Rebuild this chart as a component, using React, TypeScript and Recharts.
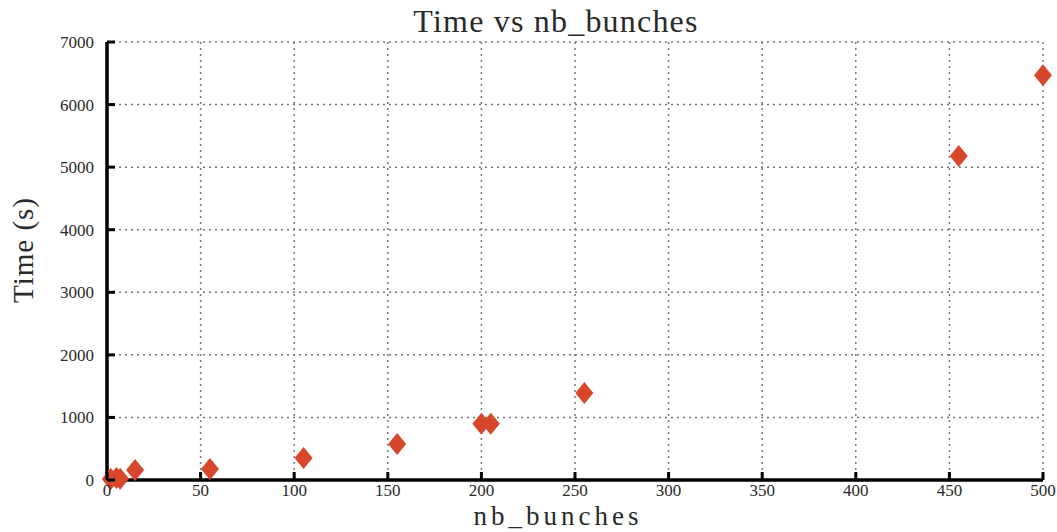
import React from "react";
import { ScatterChart, Scatter, XAxis, YAxis, CartesianGrid } from "recharts";

const bunches = [2, 5, 7, 15, 55, 105, 155, 200, 205, 255, 455, 500];
const times = [15, 30, 20, 160, 175, 350, 575, 900, 900, 1390, 5180, 6470];
const xTicks = [0, 50, 100, 150, 200, 250, 300, 350, 400, 450, 500];
const yTicks = [0, 1000, 2000, 3000, 4000, 5000, 6000, 7000];

const points = bunches.map((b, i) => ({ nb: b, time: times[i] }));

const FONT = "'Liberation Serif', 'DejaVu Serif', serif";
const INK = "#2a2a2a";

// red diamond marker, a bit wider than the stock d3 diamond
const Diamond = (props: any) => {
  const { cx, cy } = props;
  const w = 9;
  const h = 11;
  return (
    <polygon
      points={`${cx},${cy - h} ${cx + w},${cy} ${cx},${cy + h} ${cx - w},${cy}`}
      fill="#d8472b"
    />
  );
};

// tick marks point inward, labels sit outside
const XTick = (props: any) => {
  const { x, y, payload } = props;
  return (
    <g>
      <line x1={x} y1={y} x2={x} y2={y - 8} stroke="#000" strokeWidth={3} />
      <text x={x} y={y + 16} textAnchor="middle" style={{ fontFamily: FONT, fontSize: 17 }} fill={INK}>
        {payload.value}
      </text>
    </g>
  );
};

const YTick = (props: any) => {
  const { x, y, payload } = props;
  return (
    <g>
      <line x1={x} y1={y} x2={x + 8} y2={y} stroke="#000" strokeWidth={3} />
      <text x={x - 13} y={y + 6} textAnchor="end" style={{ fontFamily: FONT, fontSize: 17 }} fill={INK}>
        {payload.value}
      </text>
    </g>
  );
};

export default function App() {
  return (
    <div style={{ position: "absolute", left: 0, top: 0, background: "#fff" }}>
      <ScatterChart
        width={1057}
        height={532}
        margin={{ top: 42, right: 14, bottom: 22, left: 27 }}
      >
        <text
          x={556}
          y={32}
          textAnchor="middle"
          style={{ fontFamily: FONT, fontSize: 32, letterSpacing: 1.2 }}
          fill={INK}
        >
          Time vs nb_bunches
        </text>
        <text
          x={558}
          y={525}
          textAnchor="middle"
          style={{ fontFamily: FONT, fontSize: 27, letterSpacing: 4 }}
          fill={INK}
        >
          nb_bunches
        </text>
        <text
          x={33}
          y={250}
          textAnchor="middle"
          transform="rotate(-90 33 250)"
          style={{ fontFamily: FONT, fontSize: 29, letterSpacing: 1 }}
          fill={INK}
        >
          Time (s)
        </text>
        <CartesianGrid stroke="#777" strokeDasharray="2 4" strokeWidth={1.5} />
        <XAxis
          type="number"
          dataKey="nb"
          domain={[0, 500]}
          ticks={xTicks}
          interval={0}
          tickSize={0}
          tickMargin={0}
          tickLine={false}
          tick={<XTick />}
          axisLine={{ stroke: "#000", strokeWidth: 3.5 }}
          height={30}
        />
        <YAxis
          type="number"
          dataKey="time"
          domain={[0, 7000]}
          ticks={yTicks}
          interval={0}
          tickSize={0}
          tickMargin={0}
          tickLine={false}
          tick={<YTick />}
          axisLine={{ stroke: "#000", strokeWidth: 3.5 }}
          width={80}
        />
        <Scatter data={points} shape={<Diamond />} isAnimationActive={false} />
      </ScatterChart>
    </div>
  );
}
